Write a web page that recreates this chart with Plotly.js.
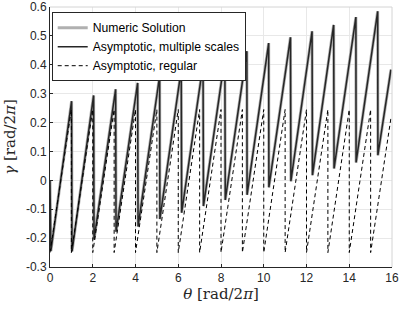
<!DOCTYPE html>
<html>
<head>
<meta charset="utf-8">
<script src="https://cdn.plot.ly/plotly-3.0.1.min.js"></script>
<style>html,body{margin:0;padding:0;background:#fff;}#chart{width:399px;height:309px;}</style>
</head>
<body>
<div id="chart"></div>
<script>
// Numeric solution
const numTheta = [0, 0.04, 1.01, 1.03, 2.04, 2.06, 3.07, 3.09, 4.10, 4.12, 5.13, 5.14, 6.14, 6.16, 7.16, 7.18, 8.18, 8.20, 9.21, 9.22, 10.23, 10.24, 11.25, 11.27, 12.26, 12.28, 13.27, 13.29, 14.31, 14.32, 15.33, 15.34, 15.95];
const numGamma = [0, -0.245, 0.274, -0.246, 0.294, -0.205, 0.315, -0.178, 0.337, -0.160, 0.362, -0.134, 0.383, -0.112, 0.401, -0.089, 0.425, -0.068, 0.447, -0.050, 0.475, -0.024, 0.495, -0.003, 0.516, 0.018, 0.538, 0.041, 0.565, 0.062, 0.585, 0.087, 0.383];
// Asymptotic, multiple scales
const msTheta = [0, 0.04, 1.01, 1.03, 2.04, 2.06, 3.07, 3.09, 4.10, 4.12, 5.13, 5.14, 6.14, 6.16, 7.16, 7.18, 8.18, 8.20, 9.21, 9.22, 10.23, 10.24, 11.25, 11.27, 12.26, 12.28, 13.27, 13.29, 14.31, 14.32, 15.33, 15.34, 15.95];
const msGamma = [0, -0.245, 0.274, -0.246, 0.294, -0.205, 0.315, -0.178, 0.337, -0.160, 0.362, -0.134, 0.383, -0.112, 0.401, -0.089, 0.425, -0.068, 0.447, -0.050, 0.475, -0.024, 0.495, -0.003, 0.516, 0.018, 0.538, 0.041, 0.565, 0.062, 0.585, 0.087, 0.383];
// Asymptotic, regular
const regTheta = [0, 1, 1, 2, 2, 3, 3, 4, 4, 5, 5, 6, 6, 7, 7, 8, 8, 9, 9, 10, 10, 11, 11, 12, 12, 13, 13, 14, 14, 15, 15, 15.95];
const regGamma = [-0.25, 0.245, -0.25, 0.245, -0.25, 0.245, -0.25, 0.245, -0.25, 0.245, -0.25, 0.245, -0.25, 0.245, -0.25, 0.245, -0.25, 0.245, -0.25, 0.245, -0.25, 0.245, -0.25, 0.245, -0.25, 0.245, -0.25, 0.245, -0.25, 0.245, -0.25, 0.215];

const xTicks = [0, 2, 4, 6, 8, 10, 12, 14, 16];
const yTicks = [-0.3, -0.2, -0.1, 0, 0.1, 0.2, 0.3, 0.4, 0.5, 0.6];
const yTickText = ['-0.3', '-0.2', '-0.1', '0', '0.1', '0.2', '0.3', '0.4', '0.5', '0.6'];

const traces = [
  {x: numTheta, y: numGamma, mode: 'lines', name: 'Numeric Solution',
   line: {color: '#b0b0b0', width: 3}},
  {x: msTheta, y: msGamma, mode: 'lines', name: 'Asymptotic, multiple scales',
   line: {color: '#262626', width: 1.5}},
  {x: regTheta, y: regGamma, mode: 'lines', name: 'Asymptotic, regular',
   line: {color: '#000000', width: 1, dash: '4px,3px'}}
];

const axisCommon = {
  showline: true, mirror: false, linecolor: '#262626', linewidth: 1,
  ticks: 'inside', ticklen: 3, tickcolor: '#262626',
  showgrid: true, gridcolor: '#e8e8e8', gridwidth: 1, zeroline: false,
  automargin: false,
  tickfont: {family: 'Liberation Sans, Arial, sans-serif', size: 12, color: '#262626'}
};

const layout = {
  width: 399, height: 309,
  margin: {l: 50, r: 7, t: 7, b: 42},
  paper_bgcolor: '#ffffff', plot_bgcolor: '#ffffff',
  showlegend: true,
  legend: {x: 0.005, y: 0.98, xanchor: 'left', yanchor: 'top',
    bgcolor: '#ffffff', bordercolor: '#262626', borderwidth: 1,
    font: {family: 'Liberation Sans, Arial, sans-serif', size: 12.2, color: '#000'},
    tracegroupgap: 0, itemwidth: 30},
  shapes: [
    {type: 'line', xref: 'paper', yref: 'paper', x0: 0, x1: 1, y0: 1, y1: 1,
     line: {color: '#d4d4d4', width: 1}},
    {type: 'line', xref: 'paper', yref: 'paper', x0: 1, x1: 1, y0: 0, y1: 1,
     line: {color: '#d4d4d4', width: 1}}
  ],
  xaxis: Object.assign({}, axisCommon, {
    range: [0, 16], tickvals: xTicks, ticktext: xTicks.map(String),
    title: {text: '<i>θ</i> [rad/2<i>π</i>]', standoff: 4,
      font: {family: 'DejaVu Serif, Liberation Serif, serif', size: 15, color: '#262626'}}
  }),
  yaxis: Object.assign({}, axisCommon, {
    range: [-0.3, 0.6], tickvals: yTicks, ticktext: yTickText,
    title: {text: '<i>γ</i> [rad/2<i>π</i>]', standoff: 6,
      font: {family: 'DejaVu Serif, Liberation Serif, serif', size: 15, color: '#262626'}}
  })
};

Plotly.newPlot('chart', traces, layout, {staticPlot: true, displayModeBar: false});
</script>
</body>
</html>
